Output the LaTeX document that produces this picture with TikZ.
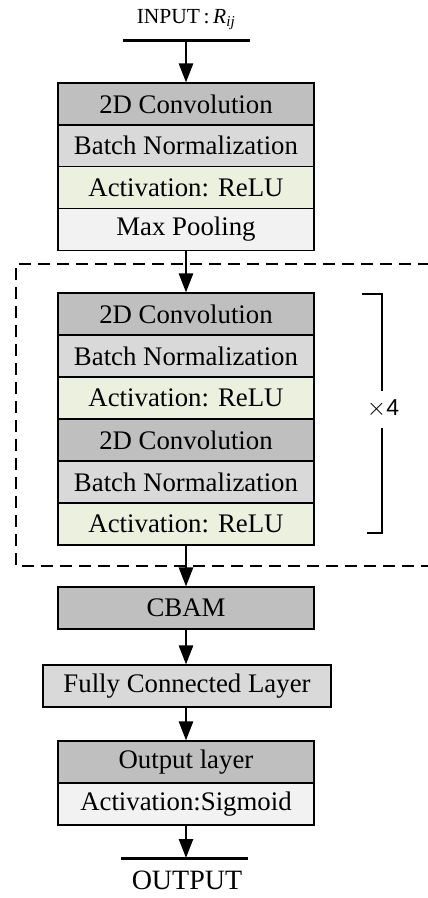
\documentclass[tikz,border=0pt]{standalone}
\usepackage{fontspec}
\setmainfont{Liberation Serif}
\newfontfamily\sansx{Liberation Sans}
\usetikzlibrary{arrows.meta}
\definecolor{cdark}{HTML}{BFBFBF}
\definecolor{cmid}{HTML}{D9D9D9}
\definecolor{cgreen}{HTML}{EBF1DE}
\definecolor{clight}{HTML}{F2F2F2}
\tikzset{
  layer/.style={draw=black, line width=1.3pt, minimum width=256pt, minimum height=41.8pt,
    inner sep=0pt, font=\fontsize{26.8}{30}\selectfont, anchor=center},
  flow/.style={line width=2.5pt, -{Triangle[length=19pt,width=14pt]}},
  bar/.style={line width=3pt},
  dashbox/.style={line width=1.4pt, dash pattern=on 12pt off 7pt},
  brk/.style={line width=1.4pt}
}
\begin{document}
\begin{tikzpicture}[x=1pt,y=1pt]
\useasboundingbox (0,0) rectangle (428,-898);
% input
\node[font=\fontsize{21.5}{24}\selectfont] (in) at (186,-20) {INPUT\,:\,\textit{R}\textsubscript{\textit{ij}}};
\coordinate (inL) at (123,-40);
\coordinate (inR) at (250,-40);
\coordinate (inC) at (186,-40);
\draw[bar] (inL) -- (inR);
% block 1
\node[layer, fill=cdark]  (a1) at (186,-104) {2D Convolution};
\node[layer, fill=cmid]   (a2) at (186,-145.8) {Batch Normalization};
\node[layer, fill=cgreen] (a3) at (186,-187.6) {Activation: ReLU};
\node[layer, fill=clight] (a4) at (186,-229.4) {Max Pooling};
% dashed region
\draw[dashbox] (430,-264) -- (16,-264) -- (16,-566) -- (430,-566);
% block 2
\node[layer, fill=cdark]  (b1) at (186,-314) {2D Convolution};
\node[layer, fill=cmid]   (b2) at (186,-356) {Batch Normalization};
\node[layer, fill=cgreen] (b3) at (186,-398) {Activation: ReLU};
\node[layer, fill=cdark]  (b4) at (186,-440) {2D Convolution};
\node[layer, fill=cmid]   (b5) at (186,-482) {Batch Normalization};
\node[layer, fill=cgreen] (b6) at (186,-524) {Activation: ReLU};
% bracket
\node[font=\sansx\fontsize{23}{26}\selectfont, inner sep=0pt] (x4) at (383,-409) {$\times$4};
\coordinate (bt1) at (362,-294);
\coordinate (bt2) at (382,-294);
\coordinate (bb1) at (367,-533);
\coordinate (bb2) at (382,-533);
\draw[brk] (bt1) -- (bt2) -- (382,-391);
\draw[brk] (382,-428) -- (bb2) -- (bb1);
% CBAM etc.
\node[layer, fill=cdark] (cb) at (186,-608) {CBAM};
\node[layer, fill=cmid, minimum width=288pt] (fc) at (187,-686) {Fully Connected Layer};
\node[layer, fill=cdark]  (o1) at (186,-762) {Output layer};
\node[layer, fill=clight] (o2) at (186,-804) {Activation:Sigmoid};
% output
\coordinate (outL) at (121,-858);
\coordinate (outR) at (248,-858);
\coordinate (outC) at (186,-858);
\draw[bar] (outL) -- (outR);
\node[font=\fontsize{28}{31}\selectfont] (out) at (187,-880) {OUTPUT};
% arrows
\draw[flow] (inC) -- (a1.north);
\draw[flow] (a4.south) -- (b1.north);
\draw[flow] (b6.south) -- (cb.north);
\draw[flow] (cb.south) -- (fc.north -| cb.south);
\draw[flow] (fc.south -| o1.north) -- (o1.north);
\draw[flow] (o2.south) -- (outC);
\end{tikzpicture}
\end{document}
